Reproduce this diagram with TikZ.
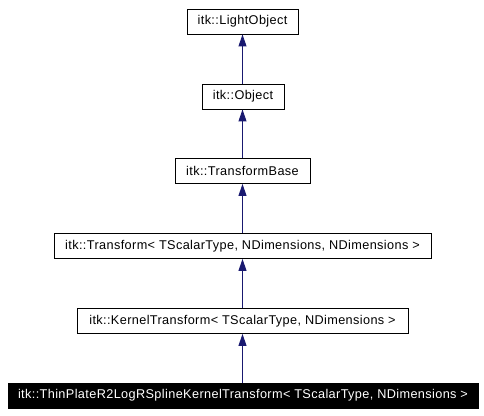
\documentclass[tikz,border=0pt]{standalone}
\usepackage{fontspec}
\setmainfont[LetterSpace=3]{Liberation Sans}
\usetikzlibrary{arrows.meta}
\definecolor{edgeblue}{HTML}{191970}
\tikzset{
  cls/.style={draw=black, line width=0.9pt, fill=white, minimum height=25pt, inner sep=0pt, font=\fontsize{12.7}{14}\selectfont},
  cur/.style={cls, fill=black, text=white},
  inh/.style={draw=edgeblue, line width=1pt, -{Triangle[width=8pt,length=12pt]}}
}
\begin{document}
\begin{tikzpicture}[x=1pt,y=-1pt]
\useasboundingbox (0,0) rectangle (484,415);
\node[cls, minimum width=111pt] (lo) at (242.5,21.5) {itk::LightObject};
\node[cls, minimum width=82pt] (ob) at (243,96.5) {itk::Object};
\node[cls, minimum width=135pt] (tb) at (242.5,171) {itk::TransformBase};
\node[cls, minimum width=377pt] (tr) at (242.5,246) {itk::Transform< TScalarType, NDimensions, NDimensions >};
\node[cls, minimum width=331pt] (kt) at (242.5,321) {itk::KernelTransform< TScalarType, NDimensions >};
\node[cur, minimum width=470pt] (tp) at (243,395.5) {itk::ThinPlateR2LogRSplineKernelTransform< TScalarType, NDimensions >};
\draw[inh] (ob.north -| lo.south) -- (lo.south);
\draw[inh] (tb.north -| lo.south) -- (ob.south -| lo.south);
\draw[inh] (tr.north -| lo.south) -- (tb.south -| lo.south);
\draw[inh] (kt.north -| lo.south) -- (tr.south -| lo.south);
\draw[inh] (tp.north -| lo.south) -- (kt.south -| lo.south);
\end{tikzpicture}
\end{document}
